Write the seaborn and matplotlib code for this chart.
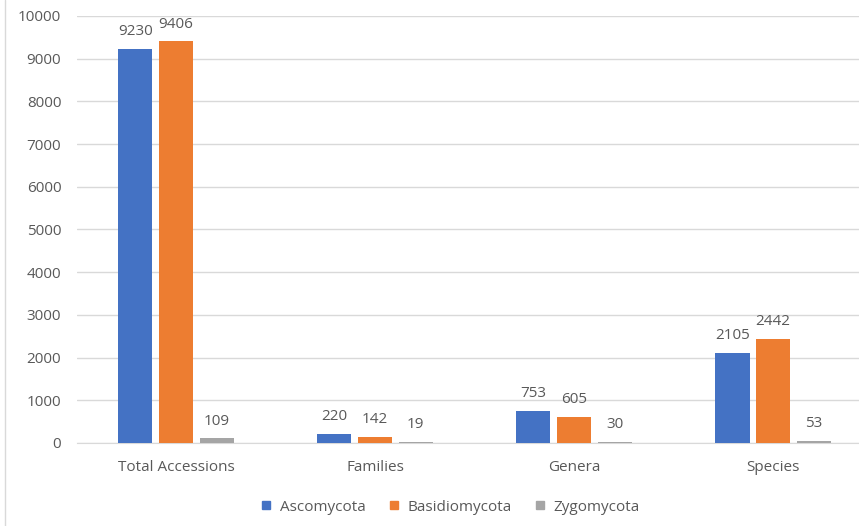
import pandas as pd
import seaborn as sns
import matplotlib.pyplot as plt
from matplotlib.lines import Line2D

# chart values
categories = ['Total Accessions', 'Families', 'Genera', 'Species']
ascomycota = [9230, 220, 753, 2105]
basidiomycota = [9406, 142, 605, 2442]
zygomycota = [109, 19, 30, 53]
groups = ['Ascomycota', 'Basidiomycota', 'Zygomycota']
colors = ['#4472C4', '#ED7D31', '#A5A5A5']

df = pd.DataFrame({'category': categories * 3,
                   'group': [g for g in groups for _ in categories],
                   'count': ascomycota + basidiomycota + zygomycota})

sns.set_style('white')
plt.rcParams['font.family'] = ['Open Sans', 'DejaVu Sans']
txt = '#595959'

fig = plt.figure(figsize=(8.59, 5.26), dpi=100)
# plot area runs a bit past the right edge, like the cropped original
ax = fig.add_axes([0.0891, 0.1578, 0.9267, 0.812])
sns.barplot(data=df, x='category', y='count', hue='group', palette=colors,
            saturation=1, width=0.615, gap=0.155, linewidth=0, ax=ax,
            legend=False, zorder=3)

for cont in ax.containers:
    ax.bar_label(cont, padding=7, fontsize=11, color=txt)

ax.set_ylim(0, 10000)
ax.set_xlim(-0.5, 3.5)
ax.set_yticks(range(0, 10001, 1000))
ax.yaxis.grid(True, color='#D9D9D9', linewidth=1, zorder=0)
ax.set_xlabel('')
ax.set_ylabel('')
ax.tick_params(axis='both', colors=txt, labelsize=11, length=0)
ax.tick_params(axis='x', pad=12)
ax.tick_params(axis='y', pad=11)
for side in ['top', 'right', 'left']:
    ax.spines[side].set_visible(False)
ax.spines['bottom'].set_color('#D9D9D9')

handles = [Line2D([], [], marker='s', linestyle='', color=c, markersize=5.5) for c in colors]
fig.legend(handles, groups, loc='center', bbox_to_anchor=(0.524, 0.036), ncol=3,
           frameon=False, fontsize=11, labelcolor=txt, handletextpad=0.55,
           handlelength=0.7, columnspacing=1.5)

# thin frame line on the left, as in the reference
fig.add_artist(Line2D([0.006, 0.006], [0, 1], color='#D9D9D9', linewidth=1))

fig.savefig('out.png', dpi=100)
